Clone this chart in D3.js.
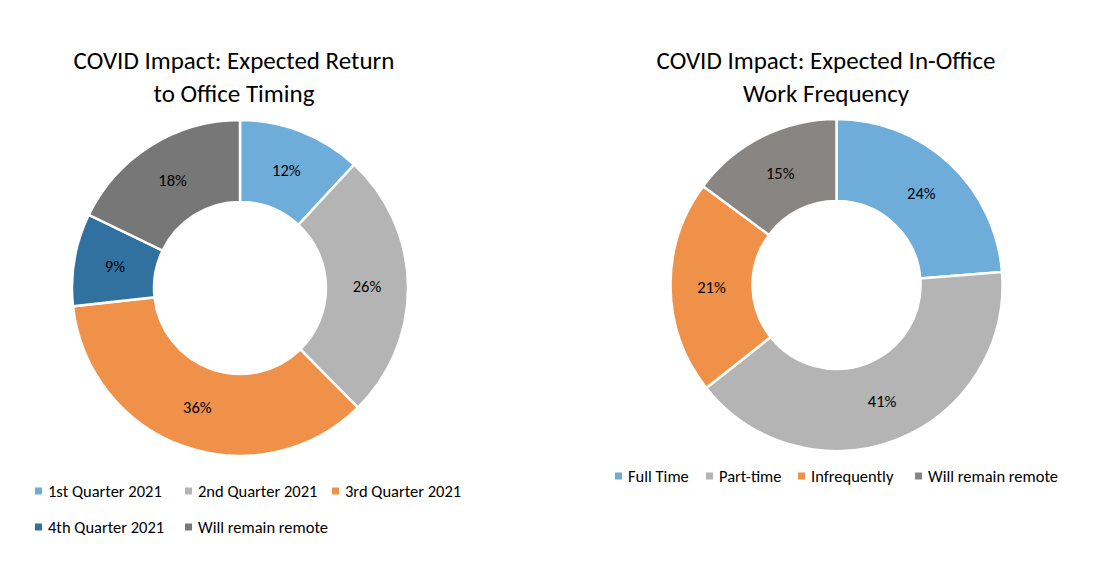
<!DOCTYPE html>
<html><head><meta charset="utf-8">
<script src="https://cdn.jsdelivr.net/npm/d3@7"></script>
<style>
body{margin:0;background:#fff;}
svg text{font-family:Carlito,Lato,"Open Sans",sans-serif;fill:#000;}
</style></head>
<body><svg id="c" width="1111" height="575"></svg>
<script>
const leftTitle = ["COVID Impact: Expected Return","to Office Timing"];
const leftCats = ["1st Quarter 2021","2nd Quarter 2021","3rd Quarter 2021","4th Quarter 2021","Will remain remote"];
const leftVals = [12,26,36,9,18];
const leftColors = ["#6eacda","#b4b4b4","#f0914a","#31719f","#777777"];

const rightTitle = ["COVID Impact: Expected In-Office","Work Frequency"];
const rightCats = ["Full Time","Part-time","Infrequently","Will remain remote"];
const rightVals = [24,41,21,15];
const rightColors = ["#6eacda","#b4b4b4","#f0914a","#898583"];

const svg = d3.select("#c");

function donut(cfg){
  const g = svg.append("g");
  const t = g.append("text").attr("text-anchor","middle").style("font-size","25px");
  cfg.title.forEach((l,i)=>t.append("tspan").attr("x",cfg.tx).attr("y",cfg.ty+i*33).text(l));
  const pie = d3.pie().sort(null).value(d=>d.v);
  const arc = d3.arc().innerRadius(cfg.ri).outerRadius(cfg.ro);
  const data = pie(cfg.cats.map((c,i)=>({c,v:cfg.vals[i],col:cfg.colors[i]})));
  const pg = g.append("g").attr("transform",`translate(${cfg.cx},${cfg.cy})`);
  pg.selectAll("path").data(data).join("path")
    .attr("d",arc).attr("fill",d=>d.data.col)
    .attr("stroke","#fff").attr("stroke-width",2.5);
  pg.selectAll("text.lab").data(data).join("text").attr("class","lab")
    .attr("transform",d=>`translate(${arc.centroid(d)})`)
    .attr("text-anchor","middle").attr("dy","0.35em")
    .style("font-size","16.5px").text(d=>d.data.v+"%");
  const lg = g.append("g");
  cfg.legend.forEach((p,i)=>{
    const it = lg.append("g").attr("transform",`translate(${p[0]},${p[1]})`);
    it.append("rect").attr("x",0).attr("y",-3.5).attr("width",7).attr("height",7).attr("fill",cfg.colors[i]);
    it.append("text").attr("x",13).attr("dy","0.35em").style("font-size","16.5px").text(cfg.cats[i]);
  });
}

donut({title:leftTitle,tx:234,ty:69,cats:leftCats,vals:leftVals,colors:leftColors,
  cx:240,cy:288,ro:168,ri:86,
  legend:[[35,491],[185,491],[332,491],[35,527],[185,527]]});
donut({title:rightTitle,tx:826,ty:69,cats:rightCats,vals:rightVals,colors:rightColors,
  cx:836.5,cy:285,ro:166,ri:84,
  legend:[[615,476],[706,476],[798,476],[915,476]]});
</script></body></html>
